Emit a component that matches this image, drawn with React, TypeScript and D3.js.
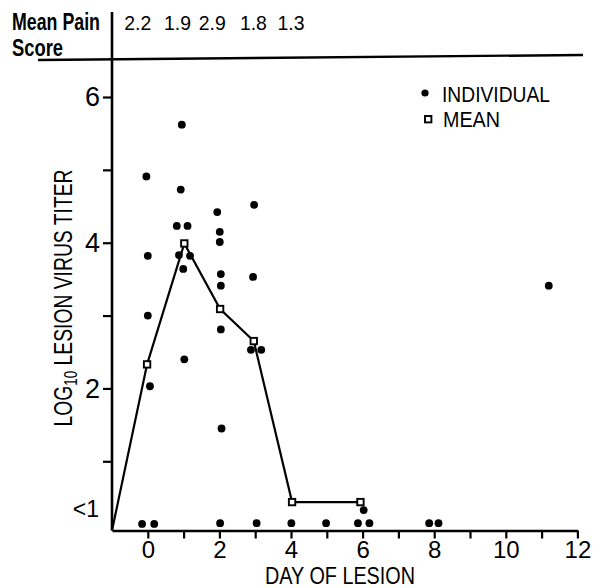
import React, { useEffect, useRef } from 'react';
import * as d3 from 'd3';

// individual lesion titers (day of lesion, log10 titer); "<1" values sit near the floor
const individualDays = [
  -0.04, 0.0, 0.0, 0.06, -0.16, 0.18,
  0.95, 0.92, 0.81, 1.11, 0.87, 1.18, 0.99, 1.02,
  1.94, 2.01, 2.01, 2.04, 2.04, 2.04, 2.06, 2.02,
  2.97, 2.94, 2.88, 3.17, 3.04,
  4.01, 4.98, 6.03, 5.87, 6.19, 7.86, 8.12, 11.2,
];
const individualValues = [
  4.91, 3.82, 3.0, 2.03, 0.14, 0.14,
  5.62, 4.73, 4.23, 4.23, 3.83, 3.82, 3.64, 2.4,
  4.42, 4.15, 4.01, 3.57, 3.41, 2.81, 1.45, 0.15,
  4.52, 3.53, 2.53, 2.53, 0.15,
  0.15, 0.15, 0.33, 0.15, 0.15, 0.15, 0.15, 3.41,
];

const meanDays = [-0.02, 1.02, 2.02, 2.96, 4.03, 5.94];
const meanValues = [2.33, 3.99, 3.09, 2.65, 0.44, 0.44];
const meanStart = { day: -1, value: 0.05 };

const painScores = ['2.2', '1.9', '2.9', '1.8', '1.3'];
const painDays = [-0.28, 0.83, 1.8, 2.95, 4.0];

const xTicks = d3.range(0, 13);
const yTicks = [1, 2, 3, 4, 5, 6];
const lessThanOneLevel = 0.35;

const W = 600;
const H = 588;
const font = "'Liberation Sans', Arial, sans-serif";

const App = () => {
  const ref = useRef<SVGSVGElement>(null);

  useEffect(() => {
    const svg = d3.select(ref.current);
    svg.selectAll('*').remove();

    const x = d3.scaleLinear().domain([-1, 12]).range([112, 577.4]);
    const y = d3.scaleLinear().domain([0.05, 6]).range([530.5, 97]);

    // header: mean pain score row
    svg.append('line')
      .attr('x1', 38).attr('y1', 60).attr('x2', 583).attr('y2', 55)
      .attr('stroke', '#000').attr('stroke-width', 2.4);
    svg.append('line')
      .attr('x1', x(-1)).attr('y1', 12).attr('x2', x(-1)).attr('y2', y(0.05))
      .attr('stroke', '#000').attr('stroke-width', 2.6);
    svg.append('text')
      .attr('x', 12).attr('y', 30)
      .attr('font-family', font).attr('font-size', 23).attr('font-weight', 'bold')
      .attr('textLength', 88).attr('lengthAdjust', 'spacingAndGlyphs')
      .text('Mean Pain');
    svg.append('text')
      .attr('x', 12).attr('y', 56)
      .attr('font-family', font).attr('font-size', 23).attr('font-weight', 'bold')
      .attr('textLength', 51).attr('lengthAdjust', 'spacingAndGlyphs')
      .text('Score');
    svg.append('g')
      .selectAll('text')
      .data(painScores)
      .enter()
      .append('text')
      .attr('x', (d, i) => x(painDays[i]))
      .attr('y', 30)
      .attr('text-anchor', 'middle')
      .attr('font-family', font).attr('font-size', 21)
      .attr('textLength', 27).attr('lengthAdjust', 'spacingAndGlyphs')
      .text((d) => d);

    // x axis
    const xAxis = svg.append('g')
      .attr('transform', `translate(0,${y(0.05)})`)
      .call(
        d3.axisBottom(x)
          .tickValues(xTicks)
          .tickSize(8)
          .tickSizeOuter(0)
          .tickPadding(2)
          .tickFormat((d) => ((d as number) % 2 === 0 ? String(d) : ''))
      );
    xAxis.select('.domain').attr('stroke-width', 2.6);
    xAxis.selectAll('.tick line').attr('stroke-width', 2.2);
    xAxis.selectAll('.tick text')
      .attr('font-family', font).attr('font-size', 24).attr('fill', '#000');

    svg.append('text')
      .attr('x', 340).attr('y', 584)
      .attr('text-anchor', 'middle')
      .attr('font-family', font).attr('font-size', 24)
      .attr('textLength', 150).attr('lengthAdjust', 'spacingAndGlyphs')
      .text('DAY OF LESION');

    // y axis
    const yAxis = svg.append('g')
      .attr('transform', `translate(${x(-1)},0)`)
      .call(
        d3.axisLeft(y)
          .tickValues(yTicks)
          .tickSize(9)
          .tickSizeOuter(0)
          .tickPadding(3)
          .tickFormat((d) => ((d as number) % 2 === 0 ? String(d) : ''))
      );
    yAxis.select('.domain').remove();
    yAxis.selectAll('.tick line').attr('stroke-width', 2.2);
    yAxis.selectAll('.tick text')
      .attr('font-family', font).attr('font-size', 27).attr('fill', '#000');

    svg.append('text')
      .attr('x', 99).attr('y', y(lessThanOneLevel))
      .attr('dy', '0.35em')
      .attr('text-anchor', 'end')
      .attr('font-family', font).attr('font-size', 23)
      .text('<1');

    const yLabel = svg.append('text')
      .attr('transform', 'translate(72,298) rotate(-90)')
      .attr('text-anchor', 'middle')
      .attr('font-family', font).attr('font-size', 26)
      .attr('textLength', 257).attr('lengthAdjust', 'spacingAndGlyphs');
    yLabel.append('tspan').text('LOG');
    yLabel.append('tspan').attr('font-size', 18).attr('dy', 5).text('10');
    yLabel.append('tspan').attr('dy', -5).text(' LESION VIRUS TITER');

    // mean line
    const line = d3.line<[number, number]>()
      .x((d) => x(d[0]))
      .y((d) => y(d[1]));
    const meanPts: [number, number][] = [
      [meanStart.day, meanStart.value],
      ...meanDays.map((d, i) => [d, meanValues[i]] as [number, number]),
    ];
    svg.append('path')
      .attr('d', line(meanPts))
      .attr('fill', 'none')
      .attr('stroke', '#000')
      .attr('stroke-width', 2.2);

    // individual points
    svg.append('g')
      .selectAll('circle')
      .data(individualDays)
      .enter()
      .append('circle')
      .attr('cx', (d) => x(d))
      .attr('cy', (d, i) => y(individualValues[i]))
      .attr('r', 3.9)
      .attr('fill', '#000');

    // mean markers
    svg.append('g')
      .selectAll('rect')
      .data(meanDays)
      .enter()
      .append('rect')
      .attr('x', (d) => x(d) - 3.2)
      .attr('y', (d, i) => y(meanValues[i]) - 3.2)
      .attr('width', 6.4)
      .attr('height', 6.4)
      .attr('fill', '#fff')
      .attr('stroke', '#000')
      .attr('stroke-width', 1.9);

    // legend
    const legend = svg.append('g');
    legend.append('circle').attr('cx', 425).attr('cy', 93).attr('r', 3.6).attr('fill', '#000');
    legend.append('text')
      .attr('x', 442).attr('y', 102)
      .attr('font-family', font).attr('font-size', 22)
      .attr('textLength', 108).attr('lengthAdjust', 'spacingAndGlyphs')
      .text('INDIVIDUAL');
    legend.append('rect')
      .attr('x', 425).attr('y', 116).attr('width', 6.4).attr('height', 6.4)
      .attr('fill', '#fff').attr('stroke', '#000').attr('stroke-width', 1.9);
    legend.append('text')
      .attr('x', 443).attr('y', 127)
      .attr('font-family', font).attr('font-size', 22)
      .attr('textLength', 57).attr('lengthAdjust', 'spacingAndGlyphs')
      .text('MEAN');
  }, []);

  return (
    <svg
      ref={ref}
      width={W}
      height={H}
      style={{ position: 'absolute', left: 0, top: 0, background: '#fff' }}
    ></svg>
  );
};

export default App;
